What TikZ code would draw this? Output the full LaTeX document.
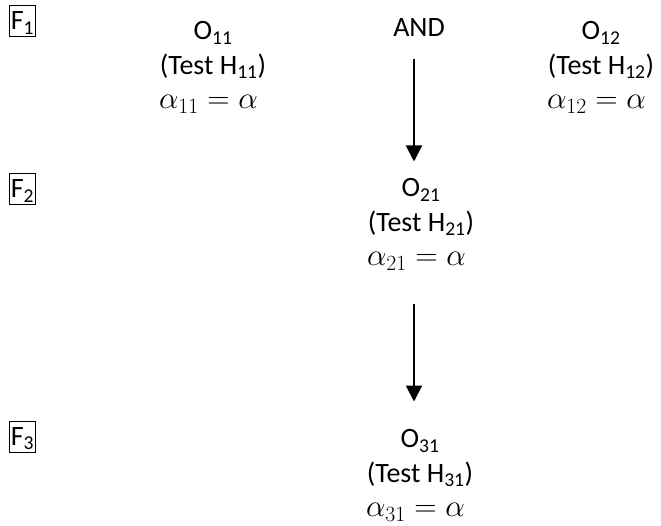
\RequirePackage{fix-cm}
\documentclass[tikz,border=0pt]{standalone}
\usepackage{fontspec}
\setmainfont{Carlito}
\usetikzlibrary{arrows.meta}
\newcommand{\eqline}[1]{{\fontsize{31}{34.5}\selectfont$\alpha_{#1}=\alpha$\hspace*{9pt}}}
\begin{document}
\begin{tikzpicture}[x=1pt,y=-1pt,
  every node/.style={inner sep=0pt, font=\fontsize{28}{34.5}\selectfont},
  block/.style={align=center, anchor=north},
  fbox/.style={draw, line width=1pt, anchor=base, text height=23pt, text depth=6pt, inner xsep=1.5pt, inner ysep=1pt},
  arr/.style={line width=2pt, -{Triangle[width=16pt,length=16pt]}}]
\useasboundingbox (0,0) rectangle (661,526);
\node[fbox] (F1) at (22.5,30) {F\textsubscript{1}};
\node[fbox] (F2) at (22.5,198) {F\textsubscript{2}};
\node[fbox] (F3) at (22.5,445) {F\textsubscript{3}};
\node[block] (O11) at (213,21.5) {O\textsubscript{11}\\(Test H\textsubscript{11})\\\eqline{11}};
\node[anchor=base] (AND) at (419,37) {AND};
\node[block] (O12) at (601,21.5) {O\textsubscript{12}\\(Test H\textsubscript{12})\\\eqline{12}};
\node[block] (O21) at (421,178.5) {O\textsubscript{21}\\(Test H\textsubscript{21})\\\eqline{21}};
\node[block] (O31) at (420,429.5) {O\textsubscript{31}\\(Test H\textsubscript{31})\\\eqline{31}};
\draw[arr, shorten <=22pt, shorten >=17pt] ([xshift=-5pt]AND.south) -- ([xshift=-5pt]AND.south |- O21.north);
\draw[arr, shorten <=33pt, shorten >=28pt] ([xshift=-7pt]O21.south) -- ([xshift=-7pt]O21.south |- O31.north);
\end{tikzpicture}
\end{document}
